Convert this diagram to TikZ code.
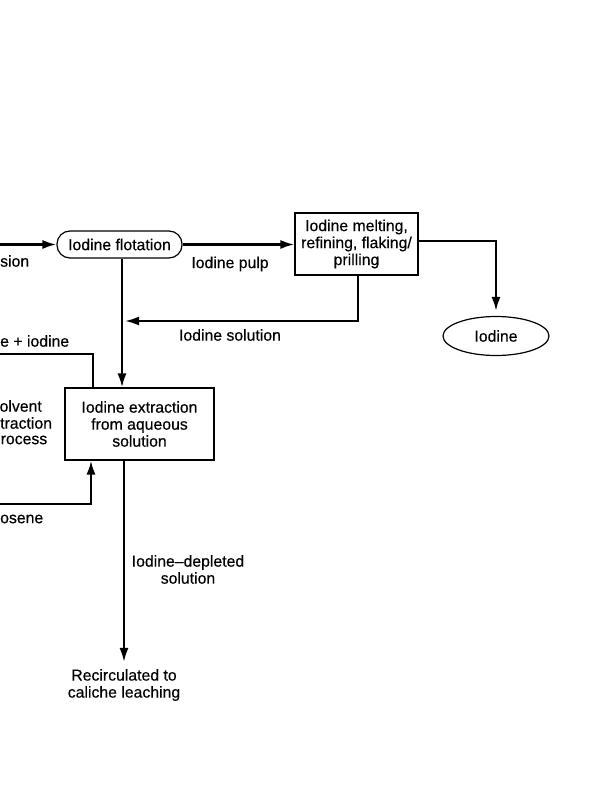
\documentclass[tikz,border=0pt]{standalone}
\usepackage{fontspec}
\setmainfont{Liberation Sans}
\newfontface\diafont{Liberation Sans}[FakeBold=0.4]
\usetikzlibrary{arrows.meta,shapes.geometric}
\begin{document}
\begin{tikzpicture}[x=1pt,y=-1pt,
  every node/.style={font=\diafont\fontsize{15.8}{17}\selectfont, align=center, inner sep=0pt},
  proc/.style={draw, line width=1.2pt, rectangle},
  conn/.style={line width=2.2pt},
  arr/.style={conn, -{Latex[length=14pt,width=9pt]}}]
\useasboundingbox[fill=white] (0,0) rectangle (594,800);

\node[proc, rounded corners=13pt, minimum width=125pt, minimum height=27pt] (flot) at (119.5,244.5) {Iodine flotation};
\node[proc, minimum width=123pt, minimum height=62pt] (melt) at (356.5,244) {Iodine melting,\\refining, flaking/\\prilling};
\node[draw, line width=1.2pt, ellipse, minimum width=106pt, minimum height=39pt] (iod) at (496,336) {Iodine};
\node[proc, minimum width=149pt, minimum height=72pt] (ext) at (139.5,424) {Iodine extraction\\from aqueous\\solution};
\node (rec) at (124,685) {Recirculated to\\caliche leaching};

% labels
\node[anchor=west] (lsion) at (0,261) {sion};
\node (lpulp) at (230,264) {Iodine pulp};
\node (lsol) at (230,335) {Iodine solution};
\node[anchor=west] (liod) at (0,341) {e + iodine};
\node[anchor=east] (ls1) at (42,406) {olvent};
\node[anchor=west] (ls2) at (0,423) {traction};
\node[anchor=west] (ls3) at (0.5,440) {rocess};
\node[anchor=west] (lker) at (0,519) {osene};
\node (ldep) at (188,569.5) {Iodine–depleted\\solution};

% coordinates
\coordinate (in1) at (0,244.5);
\coordinate (out1) at (0,354);
\coordinate (in2) at (0,504);

% connectors
\draw[arr] (in1) -- (flot.west);
\draw[arr] (flot.east) -- (flot.east -| melt.west);
\draw[arr, shorten >=5pt] ([yshift=3pt]melt.east) -| (iod.north);
\draw[arr, shorten >=3pt] ([xshift=1.5pt]melt.south) |- ([xshift=2.5pt]flot.south |- 0,321);
\draw[arr] ([xshift=2.5pt]flot.south) -- ([xshift=2.5pt]flot.south |- ext.north);
\draw[conn] ([xshift=-46.5pt]ext.north) |- (out1);
\draw[arr] (in2) -| ([xshift=-48.5pt]ext.south);
\draw[arr, shorten >=7pt] ([xshift=-15.5pt]ext.south) -- ([xshift=-15.5pt]ext.south |- rec.north);
\end{tikzpicture}
\end{document}
